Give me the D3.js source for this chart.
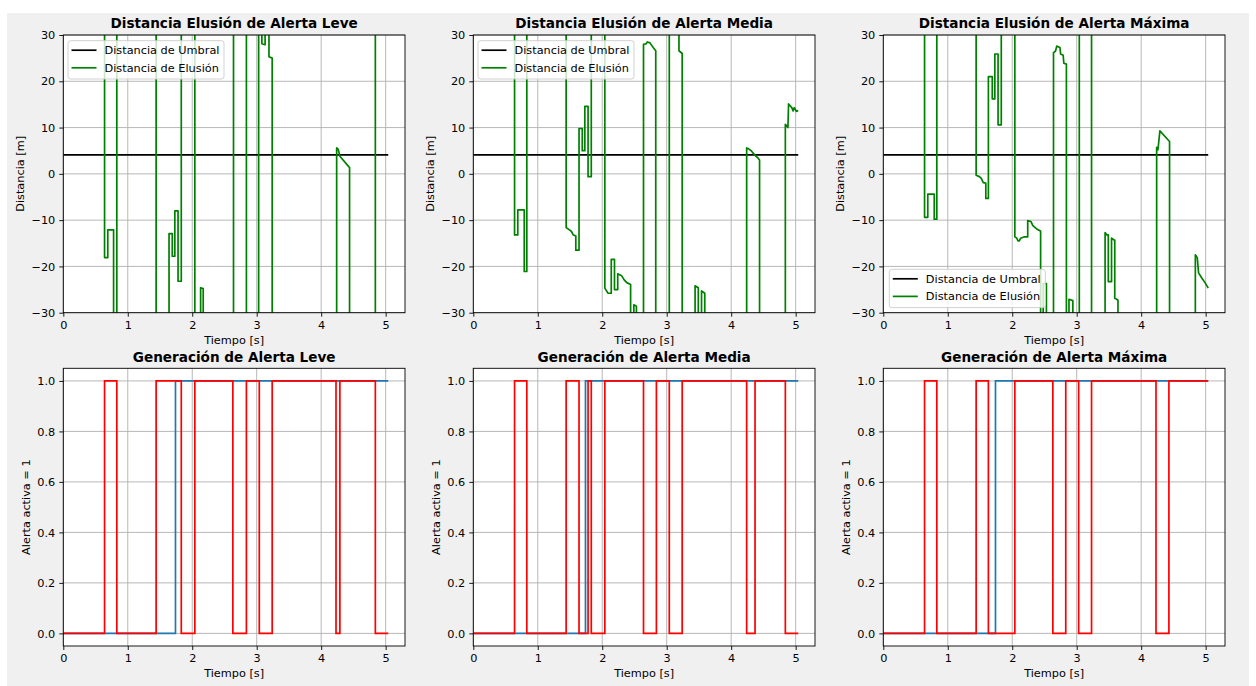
<!DOCTYPE html>
<html>
<head>
<meta charset="utf-8">
<script src="https://cdn.jsdelivr.net/npm/d3@7"></script>
<style>
  body { margin: 0; background: #fff; }
  text { font-family: "DejaVu Sans", sans-serif; fill: #000; }
</style>
</head>
<body>
<svg id="fig" width="1256" height="686"></svg>
<script>
// ---- data ----
const columnas = ['Leve', 'Media', 'Máxima']
const xTicks = [0, 1, 2, 3, 4, 5]
const yTicksDist = [-30, -20, -10, 0, 10, 20, 30]
const yTicksAlerta = [0, 0.2, 0.4, 0.6, 0.8, 1.0]

// threshold line [t, d]
const umbral = [[0, 4.1], [5.04, 4.1]]

// elusion distance [t, d]; +-60 means off the chart
const elusionLeve = [[0, 60], [0.64, 60], [0.64, -18.1], [0.69, -18.1], [0.69, -12.1], [0.78, -12.1], [0.78, -60],
  [0.83, -60], [0.83, 60], [1.44, 60], [1.44, -60], [1.64, -60], [1.64, -12.9], [1.69, -12.9], [1.69, -17.8],
  [1.73, -17.8], [1.73, -8.0], [1.78, -8.0], [1.78, -23.2], [1.83, -23.2], [1.83, 60], [2.04, 60], [2.04, -60],
  [2.13, -60], [2.13, -24.6], [2.17, -24.8], [2.17, -60], [2.64, -60], [2.64, 60], [2.84, 60], [2.84, -60],
  [3.03, -60], [3.03, 60], [3.08, 60], [3.08, 28.1], [3.13, 27.9], [3.13, 60], [3.19, 60], [3.19, 25.3],
  [3.24, 25.0], [3.24, -60], [4.24, -60], [4.24, 5.6], [4.265, 5.3], [4.29, 3.8], [4.43, 1.5], [4.44, 1.4],
  [4.44, -60], [4.84, -60], [4.84, 60], [5.04, 60]]

const elusionMedia = [[0, 60], [0.64, 60], [0.64, -13.2], [0.69, -13.2], [0.69, -7.8], [0.79, -7.8], [0.79, -21.1],
  [0.83, -21.1], [0.83, 60], [1.44, 60], [1.44, -11.6], [1.49, -12.1], [1.52, -12.4], [1.55, -13.2], [1.59, -13.4],
  [1.59, -16.5], [1.64, -16.5], [1.64, 9.8], [1.69, 9.8], [1.69, 5.0], [1.73, 5.0], [1.73, 14.6], [1.78, 14.6],
  [1.78, -0.6], [1.83, -0.6], [1.83, 60], [2.04, 60], [2.04, -24.7], [2.09, -25.8], [2.14, -25.8], [2.14, -18.5],
  [2.19, -18.5], [2.19, -25.0], [2.24, -25.0], [2.24, -21.6], [2.30, -22.0], [2.34, -22.9], [2.38, -23.5],
  [2.44, -23.9], [2.44, -60], [2.49, -60], [2.49, -28.3], [2.53, -28.6], [2.53, -60], [2.64, -60], [2.64, 28.0],
  [2.68, 28.1], [2.70, 28.5], [2.74, 28.3], [2.79, 27.3], [2.83, 26.6], [2.83, -60], [3.04, -60], [3.04, 60],
  [3.19, 60], [3.19, 26.6], [3.24, 26.0], [3.24, -60], [3.44, -60], [3.44, -24.2], [3.49, -24.6], [3.49, -60],
  [3.54, -60], [3.54, -25.3], [3.59, -25.8], [3.59, -60], [4.24, -60], [4.24, 5.6], [4.27, 5.4], [4.31, 5.0],
  [4.37, 4.0], [4.41, 3.5], [4.44, 3.0], [4.44, -60], [4.84, -60], [4.84, 10.7], [4.88, 10.0], [4.89, 15.1],
  [4.94, 14.3], [4.96, 13.6], [4.98, 14.3], [5.01, 13.5], [5.04, 13.7]]

const elusionMaxima = [[0, 60], [0.64, 60], [0.64, -9.4], [0.69, -9.4], [0.69, -4.4], [0.79, -4.4], [0.79, -9.8],
  [0.83, -9.8], [0.83, 60], [1.44, 60], [1.44, -0.3], [1.49, -0.6], [1.52, -1.0], [1.55, -1.9], [1.59, -2.0],
  [1.59, -5.3], [1.63, -5.3], [1.63, 21.0], [1.69, 21.0], [1.69, 16.2], [1.73, 16.2], [1.73, 25.9], [1.78, 25.9],
  [1.78, 10.6], [1.83, 10.6], [1.83, 60], [2.04, 60], [2.04, -13.6], [2.07, -13.9], [2.09, -14.5], [2.11, -14.5],
  [2.13, -13.9], [2.19, -13.6], [2.24, -13.6], [2.24, -10.1], [2.29, -10.3], [2.32, -11.2], [2.38, -11.9],
  [2.43, -12.3], [2.44, -12.4], [2.44, -60], [2.48, -60], [2.48, -23.7], [2.53, -23.7], [2.53, -60], [2.64, -60],
  [2.64, 26.2], [2.67, 26.5], [2.69, 27.6], [2.74, 27.3], [2.75, 25.9], [2.79, 25.6], [2.80, 23.9], [2.84, 23.7],
  [2.84, -60], [2.88, -60], [2.88, -27.1], [2.94, -27.4], [2.94, -60], [3.04, -60], [3.04, 60], [3.23, 60],
  [3.23, -60], [3.44, -60], [3.44, -12.7], [3.47, -13.2], [3.49, -13.2], [3.49, -23.3], [3.54, -23.3],
  [3.54, -13.9], [3.58, -14.3], [3.59, -14.3], [3.59, -26.9], [3.62, -27.1], [3.64, -27.3], [3.64, -60],
  [4.24, -60], [4.24, 5.7], [4.26, 5.2], [4.29, 9.3], [4.44, 7.0], [4.44, -60], [4.84, -60], [4.84, -17.5],
  [4.87, -18.1], [4.89, -21.4], [4.94, -22.5], [4.99, -23.5], [5.04, -24.7]]

// alert signals as step points [t, value] (value holds until next t)
const referencia = [[0, 0], [1.74, 1], [5.04, 1]]
const alertaLeve = [[0, 0], [0.64, 1], [0.83, 0], [1.44, 1], [1.83, 0], [2.04, 1], [2.63, 0], [2.84, 1], [3.04, 0],
  [3.24, 1], [4.23, 0], [4.29, 1], [4.84, 0], [5.04, 0]]
const alertaMedia = [[0, 0], [0.64, 1], [0.83, 0], [1.44, 1], [1.64, 0], [1.78, 1], [1.83, 0], [2.04, 1], [2.64, 0],
  [2.84, 1], [3.04, 0], [3.24, 1], [4.24, 0], [4.37, 1], [4.84, 0], [5.04, 0]]
const alertaMaxima = [[0, 0], [0.64, 1], [0.83, 0], [1.44, 1], [1.63, 0], [2.04, 1], [2.63, 0], [2.83, 1], [3.03, 0],
  [3.23, 1], [4.23, 0], [4.43, 1], [5.04, 1]]

const elusiones = [elusionLeve, elusionMedia, elusionMaxima]
const alertas = [alertaLeve, alertaMedia, alertaMaxima]

// ---- layout ----
const colLeft = [63.3, 473.3, 883.3]
const rowTop = [35, 368.3]
const pw = 341.7, ph = 277.7
const fs = 11.3   // tick / label font px
const lw = 1.7

const svg = d3.select('#fig')
svg.append('rect').attr('x', 7).attr('y', 13).attr('width', 1242).attr('height', 673).attr('fill', '#f0f0f0')

const x = d3.scaleLinear().domain([0, 5.3]).range([0, pw])
const yDist = d3.scaleLinear().domain([-30, 30]).range([ph, 0])
const yAlerta = d3.scaleLinear().domain([-0.05, 1.05]).range([ph, 0])

function panel(id, left, top, y, yTicks, yFmt, title, ylabel, ylabelOff) {
    const g = svg.append('g').attr('transform', `translate(${left},${top})`)
    g.append('rect').attr('width', pw).attr('height', ph).attr('fill', '#fff')
    svg.append('clipPath').attr('id', id).append('rect').attr('x', 0).attr('y', 0).attr('width', pw).attr('height', ph)

    // grid
    g.append('g').selectAll('line').data(xTicks).join('line')
        .attr('x1', d => x(d)).attr('x2', d => x(d)).attr('y1', 0).attr('y2', ph)
        .attr('stroke', '#b0b0b0').attr('stroke-width', 0.9)
    g.append('g').selectAll('line').data(yTicks).join('line')
        .attr('y1', d => y(d)).attr('y2', d => y(d)).attr('x1', 0).attr('x2', pw)
        .attr('stroke', '#b0b0b0').attr('stroke-width', 0.9)

    const plot = g.append('g').attr('clip-path', `url(#${id})`)

    // axes
    const ax = g.append('g').attr('transform', `translate(0,${ph})`)
        .call(d3.axisBottom(x).tickValues(xTicks).tickFormat(d3.format('d')).tickSize(4).tickPadding(4))
    const ay = g.append('g')
        .call(d3.axisLeft(y).tickValues(yTicks).tickFormat(yFmt).tickSize(4).tickPadding(4))
    for (const a of [ax, ay]) {
        a.select('.domain').remove()
        a.selectAll('line').attr('stroke', '#000').attr('stroke-width', 0.9)
        a.selectAll('text').attr('font-size', fs).attr('font-family', '"DejaVu Sans", sans-serif').attr('fill', '#000')
    }

    g.append('text').attr('x', pw / 2).attr('y', -6.8).attr('text-anchor', 'middle')
        .attr('font-size', 13.6).attr('font-weight', 'bold').text(title)
    g.append('text').attr('x', pw / 2).attr('y', ph + 31).attr('text-anchor', 'middle')
        .attr('font-size', fs).text('Tiempo [s]')
    g.append('text').attr('transform', `translate(${-ylabelOff},${ph / 2}) rotate(-90)`)
        .attr('text-anchor', 'middle').attr('font-size', fs).text(ylabel)

    return {g, plot}
}

function spines(g) {
    g.append('rect').attr('width', pw).attr('height', ph).attr('fill', 'none')
        .attr('stroke', '#000').attr('stroke-width', 0.9)
}

function legend(g, lx, ly) {
    const items = [['Distancia de Umbral', '#000'], ['Distancia de Elusión', '#008000']]
    const lg = g.append('g').attr('transform', `translate(${lx},${ly})`)
    lg.append('rect').attr('width', 156).attr('height', 38.3).attr('rx', 2.5)
        .attr('fill', '#fff').attr('fill-opacity', 0.8).attr('stroke', '#cccccc').attr('stroke-width', 0.9)
    items.forEach(([name, col], i) => {
        const cy = 9.5 + i * 17.6
        lg.append('line').attr('x1', 3.5).attr('x2', 28.5).attr('y1', cy).attr('y2', cy)
            .attr('stroke', col).attr('stroke-width', lw)
        lg.append('text').attr('x', 36.5).attr('y', cy).attr('dy', '0.36em').attr('font-size', fs).text(name)
    })
}

const lineDist = d3.line().x(d => x(d[0])).y(d => yDist(d[1]))
const lineAlerta = d3.line().x(d => x(d[0])).y(d => yAlerta(d[1])).curve(d3.curveStepAfter)

columnas.forEach((nombre, i) => {
    // top: distances
    const top = panel('clipTop' + i, colLeft[i], rowTop[0], yDist, yTicksDist, d3.format('d'),
        'Distancia Elusión de Alerta ' + nombre, 'Distancia [m]', 39.5)
    top.plot.append('path').datum(umbral).attr('d', lineDist)
        .attr('fill', 'none').attr('stroke', '#000').attr('stroke-width', lw)
    top.plot.append('path').datum(elusiones[i]).attr('d', lineDist)
        .attr('fill', 'none').attr('stroke', '#008000').attr('stroke-width', lw).attr('stroke-linejoin', 'round')
    spines(top.g)
    if (i < 2) legend(top.g, 4.7, 5.7)
    else legend(top.g, 6, 234.3)

    // bottom: alert generation
    const bot = panel('clipBot' + i, colLeft[i], rowTop[1], yAlerta, yTicksAlerta, d3.format('.1f'),
        'Generación de Alerta ' + nombre, 'Alerta activa = 1', 33.8)
    bot.plot.append('path').datum(referencia).attr('d', lineAlerta)
        .attr('fill', 'none').attr('stroke', '#1f77b4').attr('stroke-width', lw)
    bot.plot.append('path').datum(alertas[i]).attr('d', lineAlerta)
        .attr('fill', 'none').attr('stroke', '#ff0000').attr('stroke-width', lw)
    spines(bot.g)
})
</script>
</body>
</html>
